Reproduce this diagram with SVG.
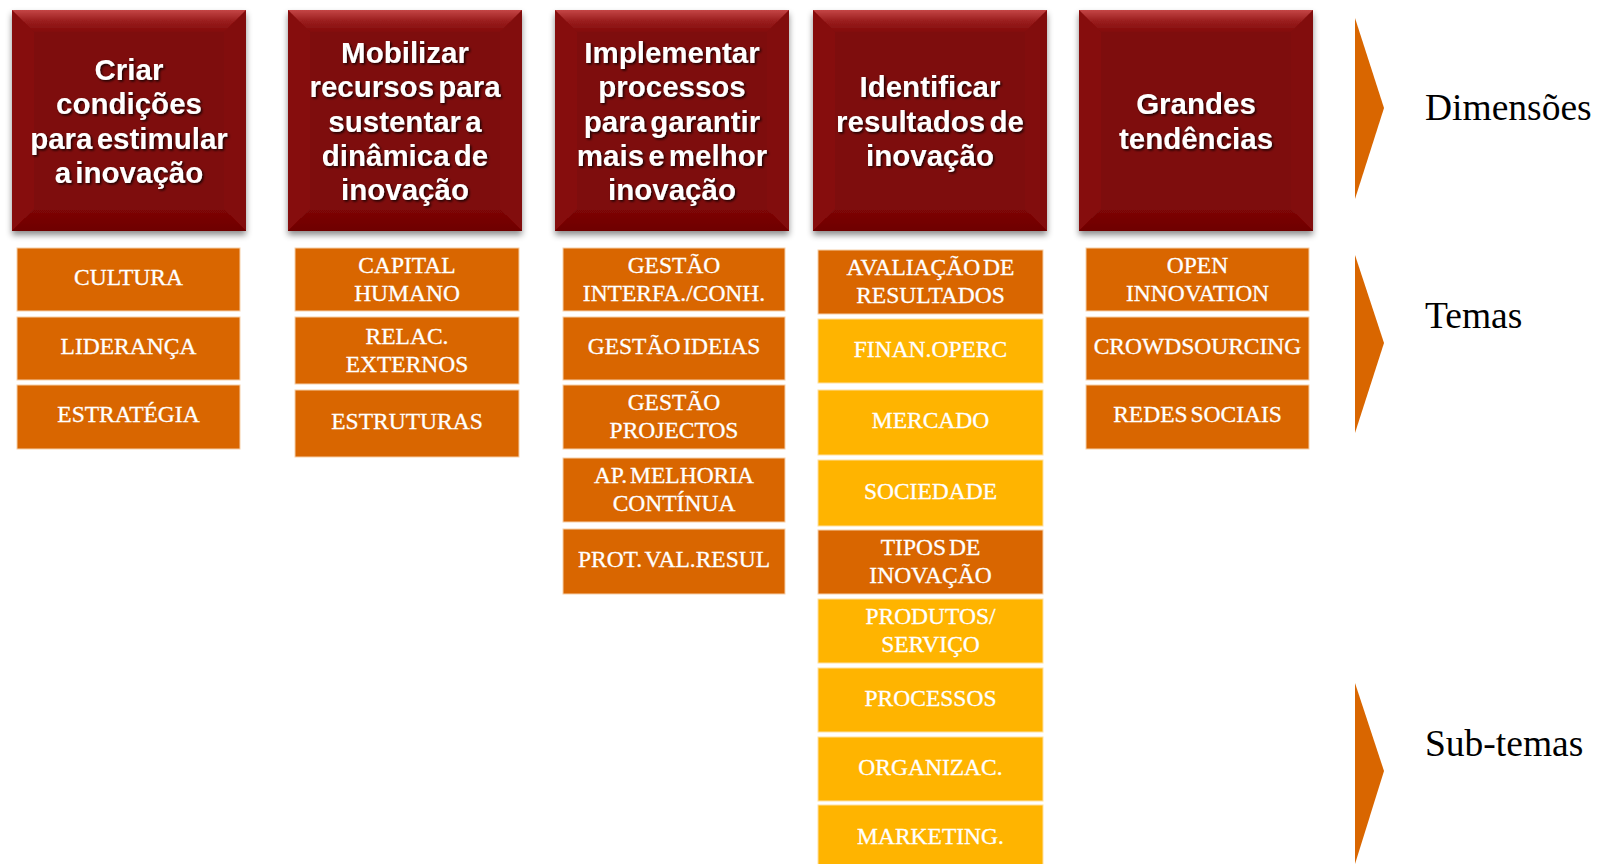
<svg xmlns="http://www.w3.org/2000/svg" width="1598" height="864" viewBox="0 0 1598 864">
<defs>
<style>
.hd{font-family:"Liberation Sans",Arial,sans-serif;font-weight:bold;font-size:29.5px;fill:#ffffff;text-anchor:middle;word-spacing:-4px;filter:url(#ts)}
.tx{font-family:"Liberation Serif","Times New Roman",serif;font-size:23.5px;fill:#ffffff;stroke:#ffffff;stroke-width:0.3;text-anchor:middle;word-spacing:-3px}
.lb{font-family:"Liberation Serif","Times New Roman",serif;font-size:37.5px;fill:#000000}
.org{fill:#d96600;stroke:#f6cfa8;stroke-width:1}
.yel{fill:#ffb400;stroke:#ffe0a0;stroke-width:1}
.box{fill:#7e0707}
.arr{fill:#d96600}
</style>
<linearGradient id="gt" x1="0" y1="0" x2="0" y2="1">
<stop offset="0" stop-color="#c44545"/>
<stop offset="0.5" stop-color="#9a1e1e"/>
<stop offset="1" stop-color="#820a0a"/>
</linearGradient>
<linearGradient id="gb" x1="0" y1="0" x2="0" y2="1">
<stop offset="0" stop-color="#7e0707"/>
<stop offset="1" stop-color="#6e0303"/>
</linearGradient>
<filter id="sh" x="-10%" y="-10%" width="120%" height="130%">
<feGaussianBlur in="SourceAlpha" stdDeviation="3"/>
<feOffset dx="0" dy="4" result="b"/>
<feFlood flood-color="#000" flood-opacity="0.45"/>
<feComposite in2="b" operator="in"/>
<feMerge><feMergeNode/><feMergeNode in="SourceGraphic"/></feMerge>
</filter>
<filter id="ts" x="-10%" y="-20%" width="120%" height="150%">
<feDropShadow dx="1.5" dy="1.5" stdDeviation="1" flood-color="#000" flood-opacity="0.8"/>
</filter>
<g id="bev">
<rect class="box" x="0" y="0" width="234" height="221"/>
<polygon points="0,0 22,22 22,199 0,221" fill="#860b0b"/>
<polygon points="234,0 212,22 212,199 234,221" fill="#820909"/>
<polygon points="0,221 22,199 212,199 234,221" fill="url(#gb)"/>
<polygon points="0,0 234,0 212,22 22,22" fill="url(#gt)"/>
</g>
</defs>
<rect width="1598" height="864" fill="#ffffff"/>

<g id="dim1"><use href="#bev" x="12" y="10" filter="url(#sh)"/>
<text class="hd"><tspan x="129" y="80">Criar</tspan><tspan x="129" y="114.3">condições</tspan><tspan x="129" y="148.6">para estimular</tspan><tspan x="129" y="183">a inovação</tspan></text></g>

<g id="dim2"><use href="#bev" x="288" y="10" filter="url(#sh)"/>
<text class="hd"><tspan x="405" y="63">Mobilizar</tspan><tspan x="405" y="97.3">recursos para</tspan><tspan x="405" y="131.6">sustentar a</tspan><tspan x="405" y="165.9">dinâmica de</tspan><tspan x="405" y="200.2">inovação</tspan></text></g>

<g id="dim3"><use href="#bev" x="555" y="10" filter="url(#sh)"/>
<text class="hd"><tspan x="672" y="63">Implementar</tspan><tspan x="672" y="97.3">processos</tspan><tspan x="672" y="131.6">para garantir</tspan><tspan x="672" y="165.9">mais e melhor</tspan><tspan x="672" y="200.2">inovação</tspan></text></g>

<g id="dim4"><use href="#bev" x="813" y="10" filter="url(#sh)"/>
<text class="hd"><tspan x="930" y="97.2">Identificar</tspan><tspan x="930" y="131.5">resultados de</tspan><tspan x="930" y="165.8">inovação</tspan></text></g>

<g id="dim5"><use href="#bev" x="1079" y="10" filter="url(#sh)"/>
<text class="hd"><tspan x="1196" y="114.4">Grandes</tspan><tspan x="1196" y="148.7">tendências</tspan></text></g>

<g id="col1">
<g id="cultura"><rect class="org" x="17" y="248" width="223" height="63"/><text class="tx" x="128.5" y="285">CULTURA</text></g>
<g id="lideranca"><rect class="org" x="17" y="317" width="223" height="63"/><text class="tx" x="128.5" y="354">LIDERANÇA</text></g>
<g id="estrategia"><rect class="org" x="17" y="385" width="223" height="64"/><text class="tx" x="128.5" y="422">ESTRATÉGIA</text></g>
</g>

<g id="col2">
<g id="capital"><rect class="org" x="295" y="248" width="224" height="63"/><text class="tx"><tspan x="407" y="273">CAPITAL</tspan><tspan x="407" y="300.5">HUMANO</tspan></text></g>
<g id="relac"><rect class="org" x="295" y="317" width="224" height="67"/><text class="tx"><tspan x="407" y="344">RELAC.</tspan><tspan x="407" y="371.5">EXTERNOS</tspan></text></g>
<g id="estruturas"><rect class="org" x="295" y="390" width="224" height="67"/><text class="tx" x="407" y="429">ESTRUTURAS</text></g>
</g>

<g id="col3">
<g id="interfa"><rect class="org" x="563" y="248" width="222" height="63"/><text class="tx"><tspan x="674" y="273">GESTÃO</tspan><tspan x="674" y="300.5">INTERFA./CONH.</tspan></text></g>
<g id="ideias"><rect class="org" x="563" y="317" width="222" height="63"/><text class="tx" x="674" y="354">GESTÃO IDEIAS</text></g>
<g id="projectos"><rect class="org" x="563" y="385" width="222" height="64"/><text class="tx"><tspan x="674" y="410">GESTÃO</tspan><tspan x="674" y="437.5">PROJECTOS</tspan></text></g>
<g id="melhoria"><rect class="org" x="563" y="458" width="222" height="64"/><text class="tx"><tspan x="674" y="483">AP. MELHORIA</tspan><tspan x="674" y="510.5">CONTÍNUA</tspan></text></g>
<g id="prot"><rect class="org" x="563" y="529" width="222" height="65"/><text class="tx" x="674" y="567">PROT. VAL.RESUL</text></g>
</g>

<g id="col4">
<g id="avaliacao"><rect class="org" x="818" y="250" width="225" height="64"/><text class="tx"><tspan x="930.5" y="275">AVALIAÇÃO DE</tspan><tspan x="930.5" y="302.5">RESULTADOS</tspan></text></g>
<g id="finan"><rect class="yel" x="818" y="319" width="225" height="64"/><text class="tx" x="930.5" y="357">FINAN.OPERC</text></g>
<g id="mercado"><rect class="yel" x="818" y="390" width="225" height="65"/><text class="tx" x="930.5" y="428">MERCADO</text></g>
<g id="sociedade"><rect class="yel" x="818" y="460" width="225" height="66"/><text class="tx" x="930.5" y="499">SOCIEDADE</text></g>
<g id="tipos"><rect class="org" x="818" y="530" width="225" height="64"/><text class="tx"><tspan x="930.5" y="555">TIPOS DE</tspan><tspan x="930.5" y="582.5">INOVAÇÃO</tspan></text></g>
<g id="produtos"><rect class="yel" x="818" y="599" width="225" height="64"/><text class="tx"><tspan x="930.5" y="624">PRODUTOS/</tspan><tspan x="930.5" y="651.5">SERVIÇO</tspan></text></g>
<g id="processos"><rect class="yel" x="818" y="668" width="225" height="64"/><text class="tx" x="930.5" y="706">PROCESSOS</text></g>
<g id="organizac"><rect class="yel" x="818" y="737" width="225" height="64"/><text class="tx" x="930.5" y="775">ORGANIZAC.</text></g>
<g id="marketing"><rect class="yel" x="818" y="805" width="225" height="70"/><text class="tx" x="930.5" y="844">MARKETING.</text></g>
</g>

<g id="col5">
<g id="open"><rect class="org" x="1086" y="248" width="223" height="63"/><text class="tx"><tspan x="1197.5" y="273">OPEN</tspan><tspan x="1197.5" y="300.5">INNOVATION</tspan></text></g>
<g id="crowd"><rect class="org" x="1086" y="317" width="223" height="63"/><text class="tx" x="1197.5" y="354">CROWDSOURCING</text></g>
<g id="redes"><rect class="org" x="1086" y="385" width="223" height="64"/><text class="tx" x="1197.5" y="422">REDES SOCIAIS</text></g>
</g>

<g id="legend">
<polygon class="arr" points="1355,18 1384,108 1355,199"/>
<text class="lb" x="1425" y="120">Dimensões</text>
<polygon class="arr" points="1355,255 1384,343 1355,433"/>
<text class="lb" x="1425" y="328">Temas</text>
<polygon class="arr" points="1355,683 1384,771 1355,864"/>
<text class="lb" x="1425" y="756">Sub-temas</text>
</g>
</svg>
